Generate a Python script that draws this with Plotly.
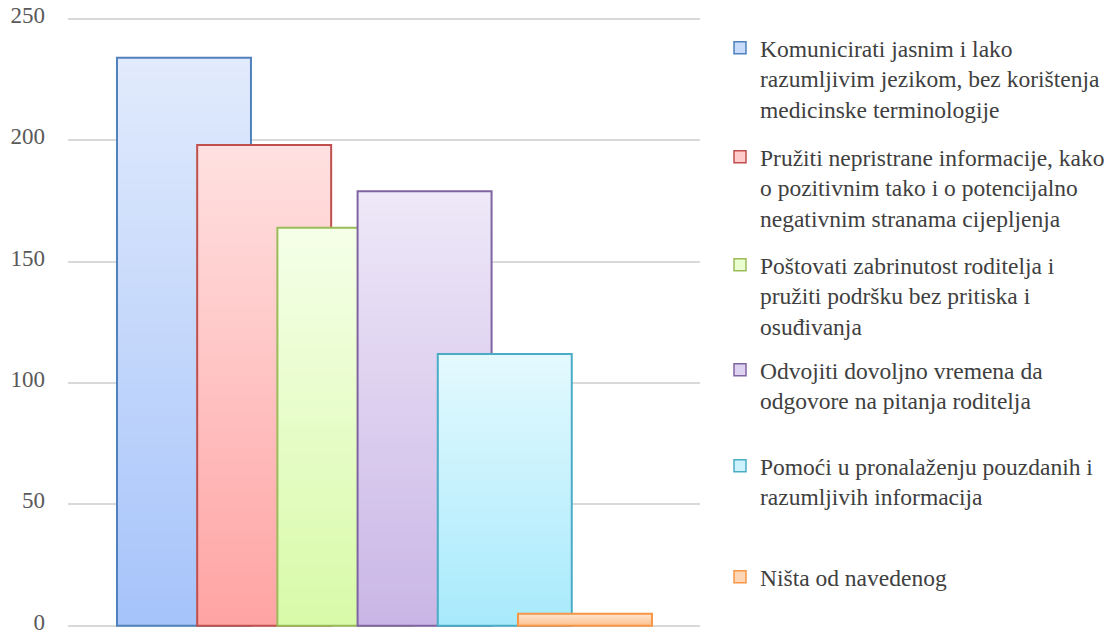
import plotly.graph_objects as go

# ---------------- data ----------------
labels = [
    "Komunicirati jasnim i lako<br>razumljivim jezikom, bez korištenja<br>medicinske terminologije",
    "Pružiti nepristrane informacije, kako<br>o pozitivnim tako i o potencijalno<br>negativnim stranama cijepljenja",
    "Poštovati zabrinutost roditelja i<br>pružiti podršku bez pritiska i<br>osuđivanja",
    "Odvojiti dovoljno vremena da<br>odgovore na pitanja roditelja",
    "Pomoći u pronalaženju pouzdanih i<br>razumljivih informacija",
    "Ništa od navedenog",
]
values = [234, 198, 164, 179, 112, 5]
y_ticks = [0, 50, 100, 150, 200, 250]

# ---------------- styles ----------------
line_colors = ["#4F81BD", "#C0504D", "#9BBB59", "#8064A2", "#4BACC6", "#F79646"]
top_colors = ["#E1EBFC", "#FFE1E1", "#F5FFE8", "#EEE8F8", "#E4F9FE", "#FFE4CE"]
bottom_colors = ["#A6C3FA", "#FFA3A3", "#D8FAA8", "#CAB6E6", "#A7EAFC", "#FCBF8C"]
legend_fills = ["#C9DBFB", "#FFCACA", "#EAFDD0", "#DDD2F0", "#CCF3FD", "#FED6B6"]

FONT = "Liberation Serif, Times New Roman, DejaVu Serif, serif"
N_SEG = 60
BAR_W = 0.212
STEP = 0.1269
FIRST = -0.4225
W, H = 1114, 633
Y_MIN, Y_MAX = -0.5, 252          # axis range (a little beyond 0..250 so edge grid lines show)
PLOT_L, PLOT_R = 68, 700          # pixel extent of the plot area
Y0_PX, Y250_PX = 626, 18.5        # pixel rows of the 0 and 250 grid lines
legend_text_x = 760
legend_first_line_y = [48, 157, 265, 370, 466, 577]

px_per_unit = (Y0_PX - Y250_PX) / 250.0
plot_top = Y250_PX - (Y_MAX - 250) * px_per_unit
plot_bottom = Y0_PX - Y_MIN * px_per_unit


def hex2rgb(h):
    h = h.lstrip("#")
    return tuple(int(h[i:i + 2], 16) for i in (0, 2, 4))


def lerp(c1, c2, t):
    a, b = hex2rgb(c1), hex2rgb(c2)
    return "rgb(%d,%d,%d)" % tuple(round(a[i] + (b[i] - a[i]) * t) for i in range(3))


fig = go.Figure()
for i, (lab, v) in enumerate(zip(labels, values)):
    off = FIRST + i * STEP
    seg = v / N_SEG
    bases = [k * seg for k in range(N_SEG)]
    heights = [min(v - b, 2 * seg) for b in bases]
    cols = [lerp(bottom_colors[i], top_colors[i], (k + 0.5) / N_SEG) for k in range(N_SEG)]
    # gradient body
    fig.add_trace(go.Bar(
        x=[0] * N_SEG, y=heights, base=bases, offset=off, width=BAR_W,
        marker=dict(color=cols, line=dict(width=0)),
        showlegend=False, hoverinfo="skip",
    ))
    # outline
    fig.add_trace(go.Bar(
        x=[0], y=[v], offset=off, width=BAR_W,
        marker=dict(color="rgba(0,0,0,0)", line=dict(color=line_colors[i], width=2)),
        showlegend=False, name=lab.replace("<br>", " "),
    ))
    # legend entry
    lname = "legend" if i == 0 else "legend%d" % (i + 1)
    fig.add_trace(go.Bar(
        x=[None], y=[None], name=lab,
        marker=dict(color=legend_fills[i], line=dict(color=line_colors[i], width=1.5)),
        showlegend=True, legend=lname,
    ))

layout_legends = {}
for i in range(len(labels)):
    lname = "legend" if i == 0 else "legend%d" % (i + 1)
    layout_legends[lname] = dict(
        xref="container", yref="container",
        x=(legend_text_x - 40) / W,
        y=1 - (legend_first_line_y[i] - 22) / H,
        xanchor="left", yanchor="top", valign="top",
        bgcolor="rgba(0,0,0,0)", borderwidth=0,
        font=dict(family=FONT, size=23.5, color="#404040"),
    )

fig.update_layout(
    width=W, height=H,
    margin=dict(l=PLOT_L, r=W - PLOT_R, t=plot_top, b=H - plot_bottom, autoexpand=False),
    paper_bgcolor="white", plot_bgcolor="white",
    barmode="overlay",
    font=dict(family=FONT, size=23, color="#595959"),
    xaxis=dict(type="linear", range=[-0.5, 0.5], visible=False, fixedrange=True,
               automargin=False),
    yaxis=dict(
        range=[Y_MIN, Y_MAX], tickvals=y_ticks, ticktext=[str(t) for t in y_ticks],
        showgrid=True, gridcolor="#D9D9D9", gridwidth=1.5,
        zeroline=False, automargin=False,
        showline=False, ticks="", ticklabelstandoff=22, ticklabelshift=-4,
        ticklabeloverflow="allow",
        tickfont=dict(family=FONT, size=23, color="#595959"),
        fixedrange=True,
    ),
    **layout_legends,
)

fig.write_html(
    "out.html",
    config={"displayModeBar": False},
    post_script=(
        "document.body.style.margin='0';"
        "document.getElementById('{plot_id}').style.overflow='hidden';"
    ),
)
